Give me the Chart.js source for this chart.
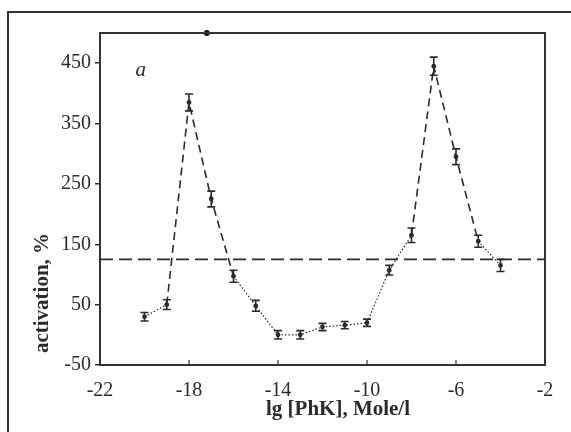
<!DOCTYPE html>
<html>
<head>
<meta charset="utf-8">
<script src="https://cdn.jsdelivr.net/npm/chart.js@4/dist/chart.umd.min.js"></script>
<style>
  html, body { margin: 0; padding: 0; background: #fff; }
  #wrap { position: relative; width: 571px; height: 432px; }
</style>
</head>
<body>
<div id="wrap"><canvas id="dataChart"></canvas></div>
<script>
// values
const lgPhK = [-20, -19, -18, -17, -16, -15, -14, -13, -12, -11, -10, -9, -8, -7, -6, -5, -4];
const activation = [30, 50, 385, 225, 97, 48, 0, 0, 13, 16, 20, 107, 165, 445, 295, 155, 115];
const errors = [7, 8, 14, 13, 10, 9, 7, 7, 6, 6, 6, 8, 12, 15, 13, 10, 10];
const baseline = [125, 125];
const baselineX = [-22, -2];
const strayX = [-17.2];
const strayY = [500];
const xTicks = [-22, -18, -14, -10, -6, -2];
const yTicks = [-50, 50, 150, 250, 350, 450];

const ink = '#2b2b2b';
const serif = '"Liberation Serif", "DejaVu Serif", serif';

// error bars, plot frame, inner x ticks, panel letter, axis titles
const extras = {
    id: 'extras',
    beforeDraw(chart) {
        const c = chart.ctx;
        c.save();
        c.strokeStyle = '#333';
        c.lineWidth = 2;
        c.beginPath();
        c.moveTo(8, 432);
        c.lineTo(8, 12);
        c.lineTo(571, 12);
        c.stroke();
        c.restore();
    },
    afterDatasetsDraw(chart) {
        const c = chart.ctx;
        const xs = chart.scales.x, ys = chart.scales.y;
        const a = chart.chartArea;
        c.save();
        c.strokeStyle = ink;
        c.lineWidth = 1.6;
        lgPhK.forEach((x, i) => {
            const px = xs.getPixelForValue(x);
            const top = ys.getPixelForValue(activation[i] + errors[i]);
            const bot = ys.getPixelForValue(activation[i] - errors[i]);
            c.beginPath();
            c.moveTo(px, top); c.lineTo(px, bot);
            c.moveTo(px - 4, top); c.lineTo(px + 4, top);
            c.moveTo(px - 4, bot); c.lineTo(px + 4, bot);
            c.stroke();
        });
        // frame
        c.lineWidth = 2;
        c.strokeStyle = '#333';
        c.strokeRect(a.left, a.top, a.right - a.left, a.bottom - a.top);
        // inner x ticks
        c.lineWidth = 1.2;
        xTicks.slice(1, -1).forEach(v => {
            const px = xs.getPixelForValue(v);
            c.beginPath();
            c.moveTo(px, a.bottom); c.lineTo(px, a.bottom - 5);
            c.stroke();
        });
        // panel letter
        c.fillStyle = ink;
        c.font = 'italic 21px ' + serif;
        c.textBaseline = 'alphabetic';
        c.fillText('a', xs.getPixelForValue(-20.4), ys.getPixelForValue(428));
        // x title
        c.font = 'bold 21px ' + serif;
        c.textAlign = 'center';
        c.textBaseline = 'middle';
        c.fillText('lg [PhK], Mole/l', 338, 410);
        // y title
        c.translate(43, 293);
        c.rotate(-Math.PI / 2);
        c.fillText('activation, %', 0, 0);
        c.restore();
    }
};

function renderChart() {
    const ctx = document.getElementById('dataChart').getContext('2d');
    new Chart(ctx, {
        type: 'line',
        data: {
            datasets: [{
                label: 'activation',
                data: lgPhK.map((x, i) => ({ x: x, y: activation[i] })),
                borderColor: ink,
                borderWidth: 1.5,
                pointRadius: 2.4,
                pointBackgroundColor: ink,
                pointBorderWidth: 0,
                segment: {
                    borderDash: s => Math.max(s.p0.parsed.y, s.p1.parsed.y) > 170 ? [8, 5] : [1.5, 2],
                    borderWidth: s => Math.max(s.p0.parsed.y, s.p1.parsed.y) > 170 ? 1.6 : 1.2
                },
                fill: false
            }, {
                label: 'control',
                data: baselineX.map((x, i) => ({ x: x, y: baseline[i] })),
                borderColor: ink,
                borderWidth: 1.8,
                borderDash: [13, 6],
                pointRadius: 0,
                fill: false
            }, {
                label: 'stray',
                data: strayX.map((x, i) => ({ x: x, y: strayY[i] })),
                showLine: false,
                pointRadius: 3,
                pointBackgroundColor: '#111',
                pointBorderWidth: 0,
                clip: false
            }]
        },
        plugins: [extras],
        options: {
            responsive: true,
            maintainAspectRatio: false,
            animation: false,
            layout: { padding: { top: 33, right: 26, left: 0, bottom: 0 } },
            plugins: { legend: { display: false }, tooltip: { enabled: false } },
            scales: {
                x: {
                    type: 'linear',
                    min: -22,
                    max: -2,
                    afterBuildTicks: s => { s.ticks = xTicks.map(v => ({ value: v })); },
                    afterFit: s => { s.height = 67; },
                    grid: { display: false, drawTicks: false },
                    border: { display: false },
                    ticks: {
                        color: ink,
                        padding: 14,
                        maxRotation: 0,
                        font: { family: serif, size: 20 }
                    }
                },
                y: {
                    min: -50,
                    max: 500,
                    afterBuildTicks: s => { s.ticks = yTicks.map(v => ({ value: v })); },
                    afterFit: s => { s.width = 100; },
                    grid: { drawOnChartArea: false, drawTicks: true, tickLength: 5, color: ink, lineWidth: 1.5 },
                    border: { display: false },
                    ticks: {
                        color: ink,
                        padding: 4,
                        font: { family: serif, size: 20 }
                    }
                }
            }
        }
    });
}

renderChart();
</script>
</body>
</html>
